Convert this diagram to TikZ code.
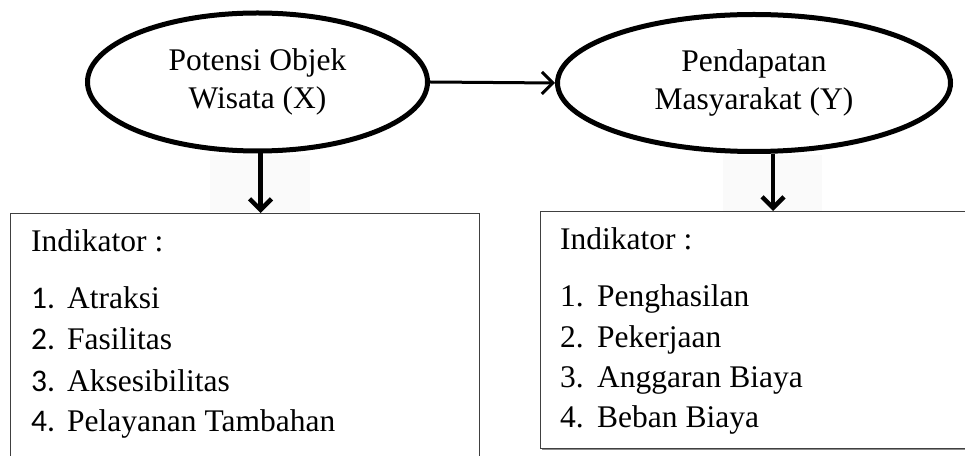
\documentclass[tikz,border=0pt]{standalone}
\usepackage{fontspec}
\setmainfont{Liberation Serif}
\newfontfamily\numfont{Carlito}
\usetikzlibrary{arrows.meta,shapes.geometric}
\begin{document}
\begin{tikzpicture}[x=1pt,y=1pt,
  ell/.style={draw, ellipse, line width=5pt, inner sep=0pt, align=center,
    font=\fontsize{31.5}{38}\selectfont},
  panel/.style={draw=black!75, line width=1.3pt, anchor=north west, inner sep=0pt},
  txt/.style={anchor=base west, inner sep=0pt, font=\fontsize{31.5}{38}\selectfont},
  harrow/.style={line width=3pt, -{Straight Barb[length=11pt,width=22pt]}},
  varrow/.style={line width=4.5pt, -{Straight Barb[length=11pt,width=22pt]}}
]
\clip (0,0) rectangle (965,455);
\fill[white] (0,0) rectangle (965,455);
% faint backgrounds behind the down arrows
\fill[black!2] (210,243) rectangle (310,300);
\fill[black!2] (723,243) rectangle (822,300);

% ellipses
\node[ell, minimum width=340pt, minimum height=138pt] (X) at (257.5,373) {Potensi Objek\\Wisata (X)};
\node[ell, minimum width=393pt, minimum height=137pt] (Y) at (754,372) {Pendapatan\\Masyarakat (Y)};

% boxes
\fill[black!45] (541.5,5.5) rectangle (990,7.5);
\node[panel, minimum width=469pt, minimum height=290pt] (bL) at (10,242) {};
\node[panel, minimum width=450pt, minimum height=237pt] (bR) at (540,244) {};

% arrows
\draw[harrow] (X.east) -- (Y.west);
\draw[varrow] ([xshift=3pt]X.south) -- ([xshift=3pt]X.south |- bL.north);
\draw[varrow] ([xshift=19pt]Y.south) -- ([xshift=19pt]Y.south |- bR.north);

% left box text
\node[txt] (lh) at (31,203) {Indikator :};
\node[txt] (ln1) at (31,146) {\numfont 1.};
\node[txt] (ln2) at (31,106) {\numfont 2.};
\node[txt] (ln3) at (31,64) {\numfont 3.};
\node[txt] (ln4) at (31,24) {\numfont 4.};
\node[txt] (lt1) at (67,146) {Atraksi};
\node[txt] (lt2) at (67,106) {Fasilitas};
\node[txt] (lt3) at (67,64) {Aksesibilitas};
\node[txt] (lt4) at (67,24) {Pelayanan Tambahan};

% right box text
\node[txt] (rh) at (560,205) {Indikator :};
\node[txt] (rn1) at (560,148) {1.};
\node[txt] (rn2) at (560,108) {2.};
\node[txt] (rn3) at (560,68) {3.};
\node[txt] (rn4) at (560,28) {4.};
\node[txt] (rt1) at (597,148) {Penghasilan};
\node[txt] (rt2) at (597,108) {Pekerjaan};
\node[txt] (rt3) at (597,68) {Anggaran Biaya};
\node[txt] (rt4) at (597,28) {Beban Biaya};
\end{tikzpicture}
\end{document}
